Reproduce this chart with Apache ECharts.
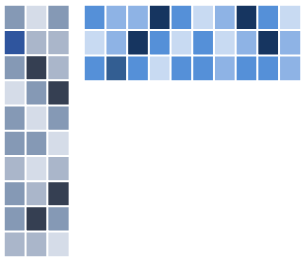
<!DOCTYPE html>
<html>
<head>
<meta charset="utf-8">
<style>
  html, body { margin: 0; padding: 0; background: #fff; }
  #main { width: 301px; height: 257px; }
</style>
<script src="https://cdn.jsdelivr.net/npm/echarts@6/dist/echarts.min.js"></script>
</head>
<body>
<div id="main"></div>
<script>
// levels: 0 light, 1 mid-light, 2 mid, 3 dark, 4 accent
var leftCols = ['a', 'b', 'c'];
var leftRows = ['1', '2', '3', '4', '5', '6', '7', '8', '9', '10'];
var leftLevels = [
    [2, 0, 2],
    [4, 1, 1],
    [2, 3, 1],
    [0, 2, 3],
    [2, 0, 2],
    [2, 2, 0],
    [1, 0, 1],
    [2, 1, 3],
    [2, 3, 2],
    [1, 1, 0]
];
var leftColors = ['#d5dce8', '#aab6ca', '#8599b5', '#353f52', '#2f559e'];

var topCols = ['1', '2', '3', '4', '5', '6', '7', '8', '9', '10'];
var topRows = ['a', 'b', 'c'];
var topLevels = [
    [2, 1, 1, 3, 2, 0, 1, 3, 2, 0],
    [0, 1, 3, 2, 0, 2, 0, 1, 3, 1],
    [2, 4, 2, 0, 2, 2, 1, 2, 2, 1]
];
var topColors = ['#c8daf2', '#8eb3e5', '#5590d8', '#163560', '#335e92'];

function toCells(levels) {
    var out = [];
    for (var r = 0; r < levels.length; r++) {
        for (var c = 0; c < levels[r].length; c++) {
            out.push([c, r, levels[r][c]]);
        }
    }
    return out;
}

function pieces(colors) {
    return colors.map(function (col, i) {
        return { value: i, color: col };
    });
}

var myChart = echarts.init(document.getElementById('main'));
myChart.setOption({
    animation: false,
    grid: [
        { left: 4, top: 5, width: 65.4, height: 253 },
        { left: 84, top: 5, width: 218, height: 76 }
    ],
    xAxis: [
        { type: 'category', gridIndex: 0, data: leftCols, show: false },
        { type: 'category', gridIndex: 1, data: topCols, show: false }
    ],
    yAxis: [
        { type: 'category', gridIndex: 0, data: leftRows, inverse: true, show: false },
        { type: 'category', gridIndex: 1, data: topRows, inverse: true, show: false }
    ],
    visualMap: [
        { type: 'piecewise', show: false, seriesIndex: 0, dimension: 2, pieces: pieces(leftColors) },
        { type: 'piecewise', show: false, seriesIndex: 1, dimension: 2, pieces: pieces(topColors) }
    ],
    series: [
        {
            type: 'heatmap',
            xAxisIndex: 0,
            yAxisIndex: 0,
            data: toCells(leftLevels),
            itemStyle: { borderColor: '#fff', borderWidth: 2 }
        },
        {
            type: 'heatmap',
            xAxisIndex: 1,
            yAxisIndex: 1,
            data: toCells(topLevels),
            itemStyle: { borderColor: '#fff', borderWidth: 2 }
        }
    ]
});
</script>
</body>
</html>
